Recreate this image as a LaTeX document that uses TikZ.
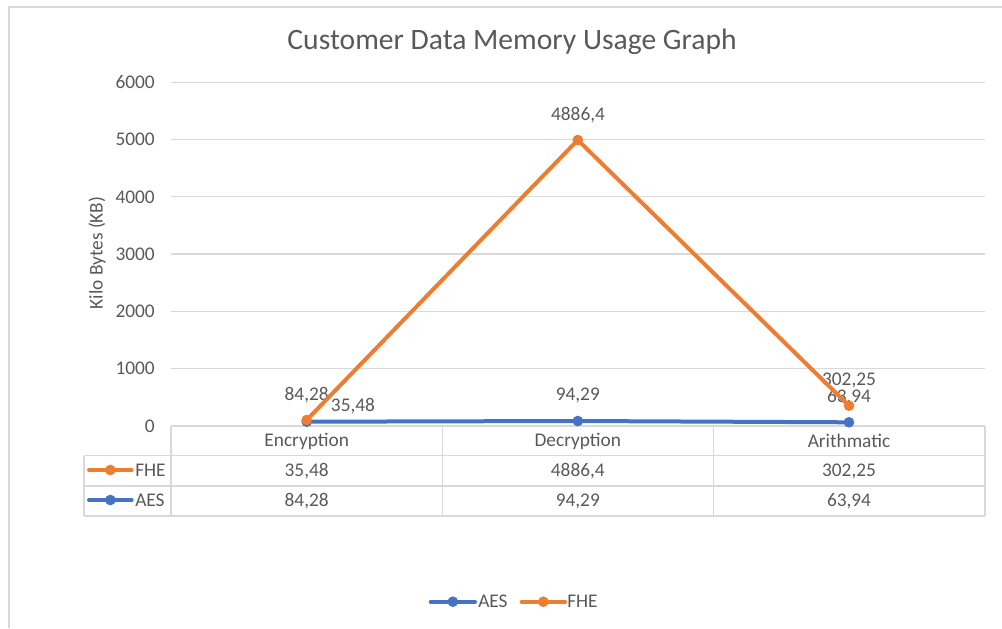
\documentclass[tikz,border=0pt]{standalone}
\usepackage{fontspec}
\setmainfont{Carlito}
\usepackage{tikz}
\usetikzlibrary{positioning}
\definecolor{fhecol}{HTML}{ED7D31}
\definecolor{aescol}{HTML}{4472C4}
\definecolor{txtcol}{HTML}{595959}
\definecolor{gridcol}{HTML}{D9D9D9}

\begin{document}
\begin{tikzpicture}[x=0.75pt,y=-0.75pt,
  lbl/.style={text=txtcol,font=\fontsize{14.5}{17}\selectfont,inner sep=0pt},
  gridln/.style={draw=gridcol,line width=1pt},
  series/.style={line width=3pt,line cap=round,line join=round},
  dot/.style={circle,fill=#1,minimum size=8pt,inner sep=0pt},
  leader/.style={draw=black!40,line width=0.8pt}]
  \useasboundingbox (0,0) rectangle (1002,628);
  \draw[gridcol,line width=1.5pt] (8.5,628) |- (1002,6.5);
  \node[lbl,font=\fontsize{22.2}{26}\selectfont] (title) at (512,42) {Customer Data Memory Usage Graph};
  \node[lbl,rotate=90] (ytitle) at (97,253) {Kilo Bytes (KB)};
  \foreach \v [count=\i from 0] in {0,1000,...,6000} {
    \draw[gridln] (171,{426-57.3*\i}) -- (985,{426-57.3*\i});
    \node[lbl,anchor=east] (tick-\i) at (155,{426-57.3*\i}) {\v};
  }
  \foreach \y in {455.7,486,516} \draw[gridln] (84,\y) -- (985,\y);
  \foreach \x in {171,442.3,713.3,985} \draw[gridln] (\x,426) -- (\x,516);
  \draw[gridln] (84,455.7) -- (84,516);
  \foreach \c/\x/\f/\a in {{Encryption/306.7/35,48/84,28},{Decryption/577.8/4886,4/94,29},{Arithmatic/849/302,25/63,94}} {
    \node[lbl] (cat-\c) at (\x,441) {\c};
    \node[lbl] (fhe-\c) at (\x,471) {\f};
    \node[lbl] (aes-\c) at (\x,501) {\a};
  }
  \draw[series,fhecol] (89,470) -- (131.7,470) node[dot=fhecol,pos=.5] {};
  \node[lbl,anchor=west] (key-fhe) at (135,470) {FHE};
  \draw[series,aescol] (89,500) -- (131.7,500) node[dot=aescol,pos=.5] {};
  \node[lbl,anchor=west] (key-aes) at (135,500) {AES};
  \coordinate (a1) at (306.7,421.7);
  \coordinate (a2) at (577.8,421);
  \coordinate (a3) at (849,422.3);
  \coordinate (f1) at (306.7,420);
  \coordinate (f2) at (577.8,140);
  \coordinate (f3) at (849,405.7);
  \draw[series,aescol] (a1) -- (a2) -- (a3);
  \foreach \i in {1,2,3} \node[dot=aescol] (ad-\i) at (a\i) {};
  \node[lbl] (va1) at (306.7,395) {84,28};
  \node[lbl] (va2) at (577.8,395) {94,29};
  \node[lbl] (va3) at (849,397) {63,94};
  \node[lbl] (vf1) at (353,406) {35,48};
  \node[lbl] (vf2) at (578,115) {4886,4};
  \node[lbl] (vf3) at (849,380) {302,25};
  \coordinate (lead) at (320,405);
  \draw[leader] (f1) -- (lead);
  \draw[series,fhecol] (f1) -- (f2) -- (f3);
  \foreach \i in {1,2,3} \node[dot=fhecol] (fd-\i) at (f\i) {};
  \draw[series,aescol] (430.7,601.7) -- (475,601.7) node[dot=aescol,pos=.5] {};
  \node[lbl,anchor=west] (leg-aes) at (478,601.7) {AES};
  \draw[series,fhecol] (521.7,601.7) -- (565,601.7) node[dot=fhecol,pos=.5] {};
  \node[lbl,anchor=west] (leg-fhe) at (567,601.7) {FHE};
\end{tikzpicture}
\end{document}
